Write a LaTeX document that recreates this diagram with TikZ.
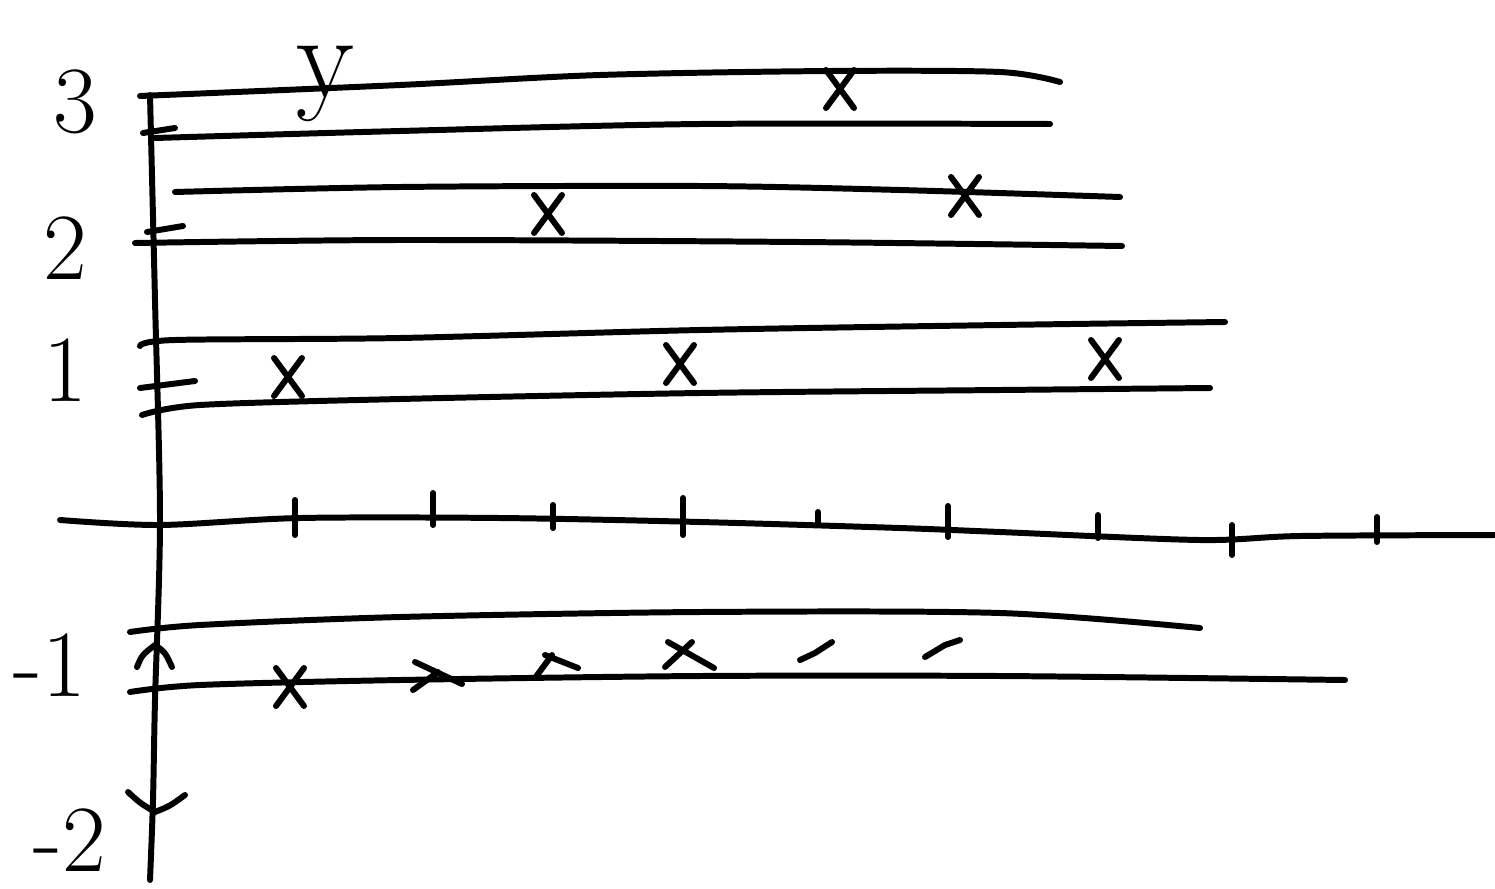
\documentclass[tikz,border=0pt]{standalone}
\begin{document}
\begin{tikzpicture}[x=0.01cm,y=-0.01cm,
  pen/.style={draw=black,line width=1.7pt,line cap=round,line join=round},
  lbl/.style={inner sep=0pt,font=\fontsize{27}{29}\selectfont},
  cross/.pic={\draw[pen] (-14,-20)--(14,18) (14,-20)--(-14,18);}]
\useasboundingbox (0,0) rectangle (1495,888);
% y axis
\draw[pen] plot[smooth] coordinates {(150,95) (155,300) (160,520) (155,700) (153,800) (150,880)};
% x axis
\draw[pen] plot[smooth] coordinates {(60,520) (160,525) (300,518) (500,518) (700,522) (900,528) (1000,532) (1200,540) (1300,536) (1495,535)};
% x ticks
\foreach \x/\a/\b in {295/500/535,433/493/525,553/505/528,683/498/535,818/512/525,948/506/537,1098/515/538,1232/525/555,1377/517/542}
  \draw[pen] (\x,\a) -- (\x,\b);
% lines near 3
\draw[pen] plot[smooth] coordinates {(140,96) (400,85) (600,75) (830,71) (1000,72) (1060,82)};
\draw[pen] plot[smooth] coordinates {(155,138) (400,131) (700,124) (1050,124)};
\draw[pen] (143,133) -- (175,128);
% lines near 2
\draw[pen] plot[smooth] coordinates {(175,192) (400,187) (700,186) (900,190) (1120,197)};
\draw[pen] plot[smooth] coordinates {(135,243) (400,240) (800,242) (1122,246)};
\draw[pen] (147,232) -- (183,226);
% lines near 1
\draw[pen] plot[smooth] coordinates {(140,346) (175,340) (400,338) (700,330) (1000,325) (1225,322)};
\draw[pen] (140,388) -- (195,381);
\draw[pen] plot[smooth] coordinates {(142,415) (200,405) (400,399) (700,393) (1000,390) (1210,388)};
% lines near -1
\draw[pen] plot[smooth] coordinates {(130,632) (200,625) (400,617) (700,612) (1000,613) (1200,628)};
\draw[pen] plot[smooth] coordinates {(130,692) (200,685) (400,680) (700,676) (1000,676) (1345,680)};
% arrowheads on y axis
\draw[pen] (137,667) .. controls (142,655) .. (155,645) .. controls (165,652) .. (172,667);
\draw[pen] (128,792) .. controls (140,803) .. (155,812) .. controls (170,806) .. (185,795);
% crosses
\foreach \p in {(840,90),(965,197),(548,215),(288,378),(680,365),(1105,360),(290,688)}
  \pic at \p {cross};
% partial marks on the -1 strip
\draw[pen] (415,662) -- (462,684) (438,672) -- (413,690);
\draw[pen] (535,678) -- (552,655) (545,655) -- (578,668);
\draw[pen] (668,642) -- (714,668) (692,642) -- (665,667);
\draw[pen] (800,660) -- (815,653) -- (832,642);
\draw[pen] (925,657) -- (945,645) -- (960,640);
% labels
\node[lbl] (l3) at (75,102) {3};
\node[lbl] (l2) at (65,248) {2};
\node[lbl] (l1) at (65,370) {1};
\node[lbl] (lm1) at (50,665) {-1};
\node[lbl] (lm2) at (70,840) {-2};
\node[inner sep=0pt,anchor=base,font=\fontsize{34}{36}\selectfont] (ly) at (325,98) {y};
\end{tikzpicture}
\end{document}
